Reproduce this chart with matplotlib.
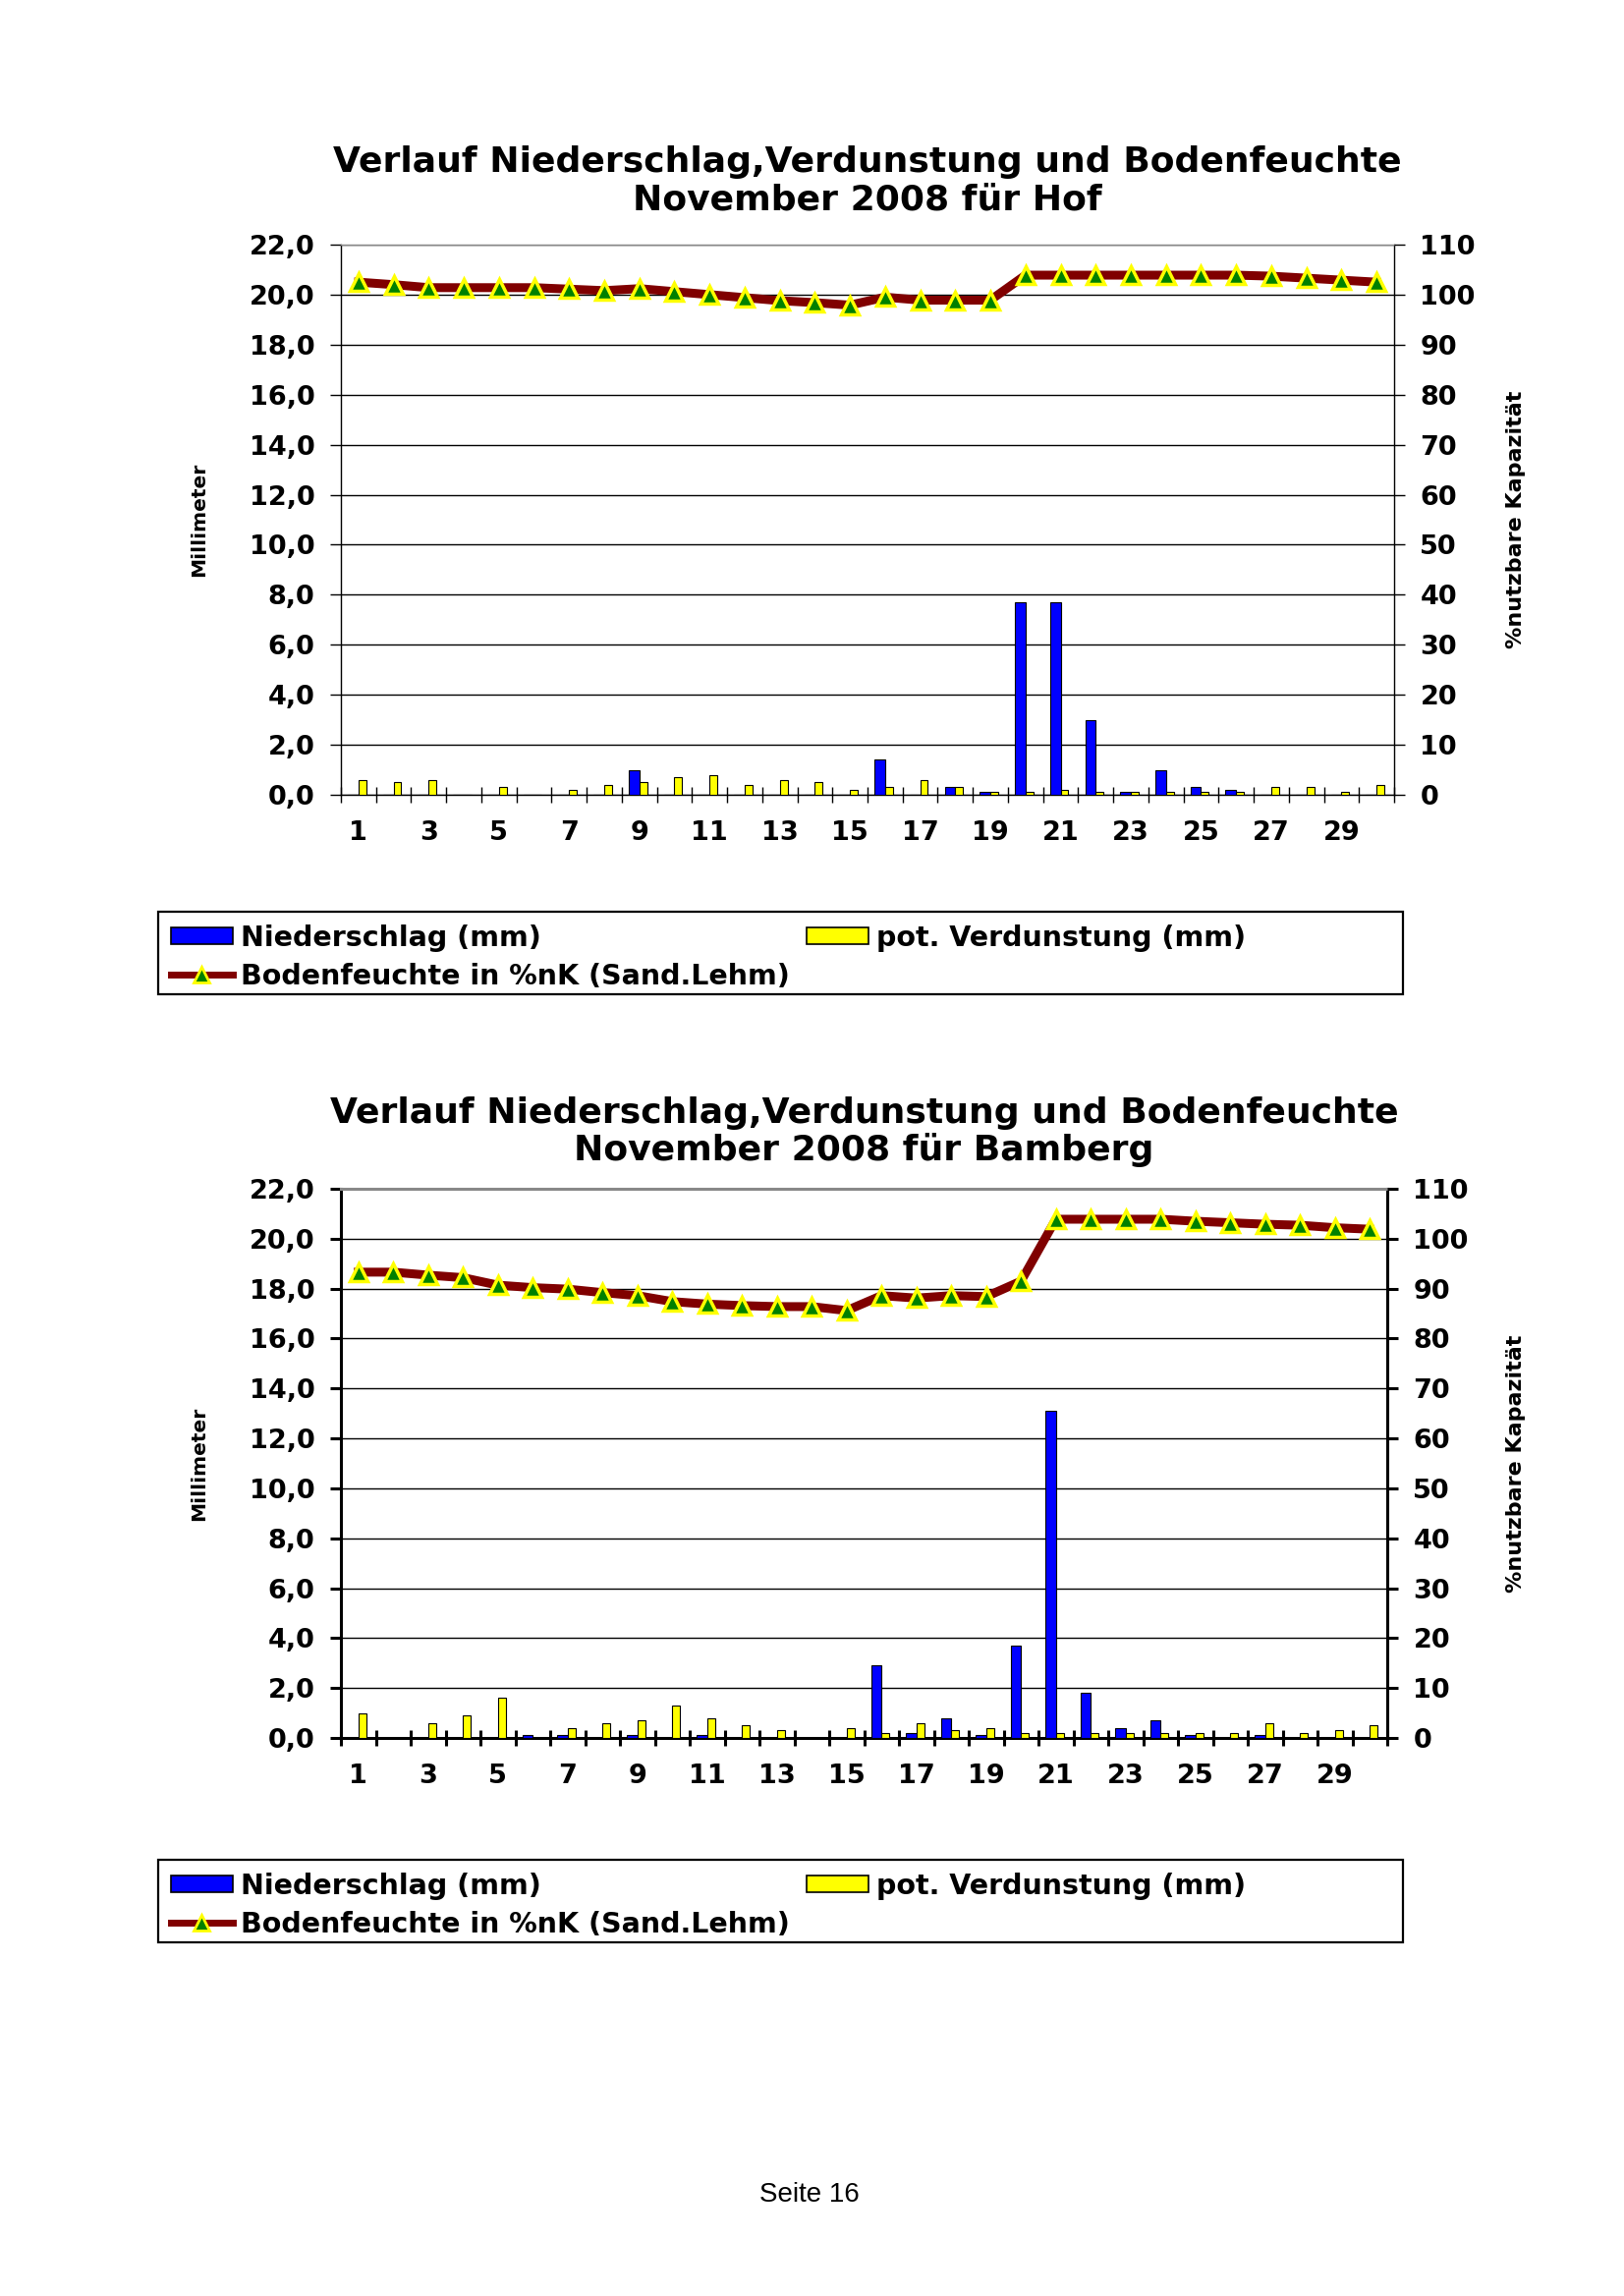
import numpy as np
import matplotlib
matplotlib.use('Agg')
import matplotlib.pyplot as plt
from matplotlib.patches import Patch, Rectangle
from matplotlib.lines import Line2D

days = list(range(1, 31))
day_labels = [str(d) if d % 2 == 1 else '' for d in days]

# Hof
hof_nied = [0, 0, 0, 0, 0, 0, 0, 0, 1.0, 0, 0, 0, 0, 0, 0, 1.4, 0, 0.3, 0.1, 7.7,
            7.7, 3.0, 0.1, 1.0, 0.3, 0.2, 0, 0, 0, 0]
hof_verd = [0.6, 0.5, 0.6, 0, 0.3, 0, 0.2, 0.4, 0.5, 0.7, 0.8, 0.4, 0.6, 0.5, 0.2,
            0.3, 0.6, 0.3, 0.1, 0.1, 0.2, 0.1, 0.1, 0.1, 0.1, 0.1, 0.3, 0.3, 0.1, 0.4]
hof_boden = [102.5, 102.0, 101.4, 101.4, 101.4, 101.4, 101.1, 100.8, 101.2, 100.6,
             100.0, 99.4, 98.8, 98.4, 97.9, 99.5, 98.9, 98.9, 98.9, 103.9,
             103.9, 103.9, 103.9, 103.9, 103.9, 103.9, 103.7, 103.3, 102.9, 102.5]

# Bamberg
bam_nied = [0, 0, 0, 0, 0, 0.1, 0.1, 0, 0.1, 0, 0.1, 0, 0, 0, 0, 2.9, 0.2, 0.8, 0.1, 3.7,
            13.1, 1.8, 0.4, 0.7, 0.1, 0, 0.1, 0, 0, 0]
bam_verd = [1.0, 0, 0.6, 0.9, 1.6, 0, 0.4, 0.6, 0.7, 1.3, 0.8, 0.5, 0.3, 0, 0.4,
            0.2, 0.6, 0.3, 0.4, 0.2, 0.2, 0.2, 0.2, 0.2, 0.2, 0.2, 0.6, 0.2, 0.3, 0.5]
bam_boden = [93.3, 93.3, 92.7, 92.2, 90.7, 90.2, 89.9, 89.2, 88.6, 87.4,
             86.9, 86.6, 86.4, 86.4, 85.6, 88.6, 88.1, 88.6, 88.4, 91.5,
             103.9, 103.9, 103.9, 103.9, 103.5, 103.2, 102.9, 102.7, 102.2, 101.9]

title1 = 'Verlauf Niederschlag,Verdunstung und Bodenfeuchte'

W, H = 1653, 2337
fig = plt.figure(figsize=(W / 100, H / 100), dpi=100)
fam = 'DejaVu Sans'


def fx(px):
    return px / W


def fy(py):
    return 1 - py / H


def draw_chart(left, right, top, bottom, nied, verd, boden, station, heavy, title_y, legend_top):
    ax = fig.add_axes([fx(left), fy(bottom), fx(right - left), (bottom - top) / H])
    x = np.array(days)
    ax.bar(x - 0.15, nied, width=0.3, color='#0000ff', edgecolor='black', linewidth=0.8, zorder=3)
    ax.bar(x + 0.11, verd, width=0.22, color='#ffff00', edgecolor='black', linewidth=0.8, zorder=3)
    ax.set_xlim(0.5, 30.5)
    ax.set_ylim(0, 22)
    ax.set_yticks(np.arange(0, 23, 2))
    ax.set_yticklabels([('%.1f' % v).replace('.', ',') for v in np.arange(0, 23, 2)])
    ax.set_xticks(days)
    ax.set_xticklabels(day_labels)
    ax.set_xticks(np.arange(0.5, 31, 1), minor=True)
    ax.grid(axis='y', color='black', linewidth=1.0, zorder=0)
    ax.set_axisbelow(True)
    sw = 2.2 if heavy else 1.0
    for s in ['left', 'right', 'bottom']:
        ax.spines[s].set_linewidth(sw)
        ax.spines[s].set_color('black')
    ax.spines['top'].set_color('#888888')
    ax.spines['top'].set_linewidth(sw)
    ax.tick_params(axis='x', which='major', length=0, pad=19, labelsize=19.5)
    ax.tick_params(axis='x', which='minor', direction='inout', length=12, width=sw)
    ax.tick_params(axis='y', length=8, width=sw, pad=11, labelsize=19.5)
    for t in ax.get_xticklabels() + ax.get_yticklabels():
        t.set_fontweight('bold')

    ax2 = ax.twinx()
    ax2.plot(x, boden, color='#800000', linewidth=6.5, marker='^', markersize=13,
             markerfacecolor='#008000', markeredgecolor='#ffff00', markeredgewidth=2.5,
             zorder=4, clip_on=False)
    ax2.set_ylim(0, 110)
    ax2.set_yticks(np.arange(0, 111, 10))
    ax2.tick_params(axis='y', length=8, width=sw, pad=11, labelsize=19.5)
    for t in ax2.get_yticklabels():
        t.set_fontweight('bold')
    for s in ax2.spines.values():
        s.set_visible(False)

    cx = (left + right) / 2
    fig.text(fx(cx), fy(title_y), title1, ha='center', va='center',
             fontsize=26, fontweight='bold', family=fam)
    fig.text(fx(cx), fy(title_y + 38), 'November 2008 für ' + station, ha='center', va='center',
             fontsize=26, fontweight='bold', family=fam)
    cy = (top + bottom) / 2
    fig.text(fx(203), fy(cy), 'Millimeter', rotation=90, ha='center', va='center',
             fontsize=14.5, fontweight='bold', family=fam)
    fig.text(fx(1543), fy(cy), '%nutzbare Kapazität', rotation=90, ha='center', va='center',
             fontsize=16, fontweight='bold', family=fam)

    # legend
    fig.patches.append(Rectangle((fx(161), fy(legend_top + 84)), fx(1267), 84 / H,
                                 transform=fig.transFigure, fill=False,
                                 edgecolor='black', linewidth=1.6))
    handles = [Patch(facecolor='#0000ff', edgecolor='black', linewidth=1.2),
               Line2D([], [], color='#800000', linewidth=5, marker='^', markersize=12,
                      markerfacecolor='#008000', markeredgecolor='#ffff00', markeredgewidth=2),
               Patch(facecolor='#ffff00', edgecolor='black', linewidth=1.2)]
    labels = ['Niederschlag (mm)', 'Bodenfeuchte in %nK (Sand.Lehm)', 'pot. Verdunstung (mm)']
    fig.legend(handles, labels, loc='upper left', bbox_to_anchor=(fx(154), fy(legend_top - 7)),
               ncol=2, frameon=False, handlelength=2.2, handleheight=0.55, handletextpad=0.3,
               columnspacing=0.6, labelspacing=0.38, borderpad=0.2,
               prop={'weight': 'bold', 'size': 20.5, 'family': fam})
    return ax


draw_chart(347, 1419, 249, 809, hof_nied, hof_verd, hof_boden, 'Hof', False, 165, 928)
draw_chart(347, 1412, 1210, 1769, bam_nied, bam_verd, bam_boden, 'Bamberg', True, 1133, 1893)

fig.text(fx(824), fy(2234), 'Seite 16', ha='center', va='center', fontsize=20,
         family='Liberation Sans')

fig.savefig('out.png', dpi=100)
